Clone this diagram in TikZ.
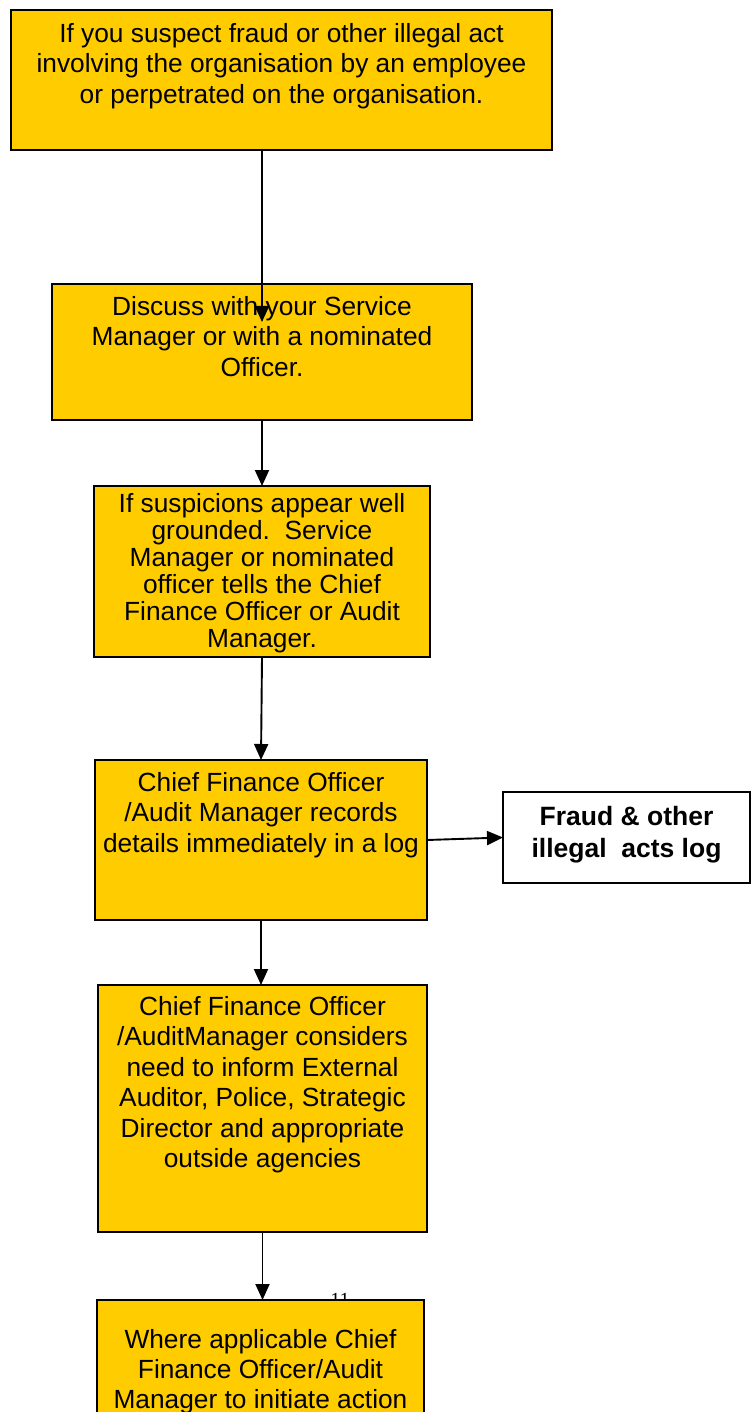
\documentclass[tikz,border=0pt]{standalone}
\usepackage{fontspec}
\setmainfont{Liberation Sans}
\newfontfamily\pagenumfont{Liberation Serif}
\usetikzlibrary{arrows.meta}
\definecolor{stepyellow}{HTML}{FFCC00}
\begin{document}
\begin{tikzpicture}[x=1pt,y=-1pt,
    stepbox/.style={draw=black,line width=2.8pt,fill=stepyellow,rectangle,inner sep=0pt,outer sep=0pt,anchor=north west},
    logbox/.style={stepbox,fill=white},
    steptext/.style={anchor=north,align=center,inner sep=0pt,font=\fontsize{26.3}{30.5}\selectfont},
    flow/.style={draw=black,line width=1.9pt,-{Triangle[length=16pt,width=14pt]}}]
  \useasboundingbox (0,0) rectangle (751,1412);
  \clip (0,0) rectangle (751,1412);
  % boxes
  \node[stepbox,minimum width=541pt,minimum height=140pt] (b1) at (11,10) {};
  \node[stepbox,minimum width=420pt,minimum height=136pt] (b2) at (52,284) {};
  \node[stepbox,minimum width=336pt,minimum height=171pt] (b3) at (94,486) {};
  \node[stepbox,minimum width=332pt,minimum height=160pt] (b4) at (95,760) {};
  \node[logbox,minimum width=247pt,minimum height=91pt] (log) at (503,792) {};
  \node[stepbox,minimum width=329pt,minimum height=247pt] (b5) at (98,985) {};
  \node (pagenum) [anchor=base,inner sep=0pt,font=\pagenumfont\fontsize{20}{22}\selectfont] at (340,1306) {11};
  \node[stepbox,minimum width=327pt,minimum height=200pt] (b6) at (97,1300) {};
  % texts
  \node[steptext] (t1) at ([yshift=-13pt]b1.north) {If you suspect fraud or other illegal act\\involving the organisation by an employee\\or perpetrated on the organisation.};
  \node[steptext] (t3) at ([yshift=-7pt]b3.north) [font=\fontsize{26.3}{27}\selectfont] {If suspicions appear well\\grounded.\ \ Service\\Manager or nominated\\officer tells the Chief\\Finance Officer or Audit\\Manager.};
  \node[steptext] (t4) at ([yshift=-12pt]b4.north) {Chief Finance Officer\\/Audit Manager records\\details immediately in a log};
  \node[steptext] (tlog) at ([yshift=-14pt]log.north) [font=\bfseries\fontsize{26.5}{32}\selectfont] {Fraud \& other\\illegal\ \ acts log};
  \node[steptext] (t5) at ([yshift=-11pt]b5.north) {Chief Finance Officer\\/AuditManager considers\\need to inform External\\Auditor, Police, Strategic\\Director and appropriate\\outside agencies};
  \node[steptext] (t6) at ([yshift=-29pt]b6.north) [font=\fontsize{26.3}{30}\selectfont] {Where applicable Chief\\Finance Officer/Audit\\Manager to initiate action};
  % connectors
  \coordinate (tip2) at (262,322);
  \draw[flow] (b1.south -| b2.north) -- (tip2);
  \node[steptext] (t2) at ([yshift=-12pt]b2.north) {Discuss with your Service\\Manager or with a nominated\\Officer.};
  \draw[flow] (b2.south) -- (b3.north);
  \draw[flow] (b3.south) -- (b4.north);
  \draw[flow] (b4.east) -- (log.west);
  \draw[flow] (b4.south) -- (b4.south |- b5.north);
  \draw[flow] (b5.south) -- (b5.south |- b6.north);
\end{tikzpicture}
\end{document}
